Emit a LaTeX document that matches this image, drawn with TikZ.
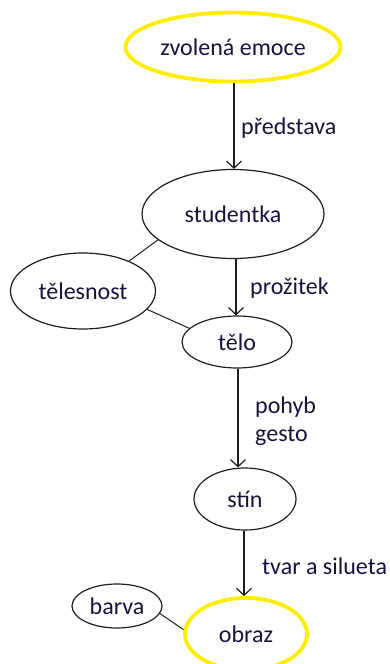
\documentclass[tikz,border=0pt]{standalone}
\usepackage{fontspec}
\setmainfont{Carlito}
\usetikzlibrary{shapes.geometric,arrows.meta}
\definecolor{hl}{RGB}{255,238,0}
\definecolor{ink}{RGB}{30,30,30}
\definecolor{txt}{RGB}{20,20,60}
\tikzset{
  oval/.style={ellipse, draw=ink, line width=1.2pt, inner sep=0pt, minimum width=#1},
  hloval/.style={ellipse, draw=hl, line width=3.8pt, inner sep=0pt, minimum width=#1},
  flow/.style={draw=ink, line width=1.2pt, -{Straight Barb[length=7pt,width=15pt,line width=1.2pt]}},
  link/.style={draw=ink, line width=1pt},
  lab/.style={anchor=west, inner sep=0pt, text=txt},
}
\begin{document}
\begin{tikzpicture}[x=1pt,y=-1pt,font=\fontsize{24}{29}\selectfont]
\useasboundingbox (0,0) rectangle (389,664);
\node[hloval=215pt, minimum height=69pt, text=txt] (emo) at (233,47) {zvolená emoce};
\node[oval=182pt, minimum height=89pt, text=txt] (stu) at (233,214) {studentka};
\node[oval=145pt, minimum height=76pt, text=txt] (tel) at (83,291) {tělesnost};
\node[oval=110pt, minimum height=52pt, text=txt] (telo) at (237,342) {tělo};
\node[oval=102pt, minimum height=62pt, text=txt] (stin) at (245,499) {stín};
\node[oval=90pt, minimum height=44pt, text=txt] (bar) at (117,606) {barva};
\node[hloval=122pt, minimum height=72pt, text=txt] (obr) at (246,634) {obraz};
\draw[flow] (emo.south -| 234,0) -- (stu.north -| 234,0);
\draw[flow] (stu.south -| 236,0) -- (telo.north -| 236,0);
\draw[flow] (telo.south -| 238,0) -- (stin.north -| 238,0);
\draw[flow] (stin.south -| 244,0) -- (obr.north -| 244,0);
\draw[link] (stu.199) -- (tel.33);
\draw[link] (tel.344) -- (telo.164);
\draw[link] (bar.350) -- (obr.176);
\node[lab] (l1) at (241,128) {představa};
\node[lab] (l2) at (250,288) {prožitek};
\node[lab] (l3) at (255,407) {pohyb};
\node[lab] (l4) at (255,436) {gesto};
\node[lab] (l5) at (262,566) {tvar a silueta};
\end{tikzpicture}
\end{document}
